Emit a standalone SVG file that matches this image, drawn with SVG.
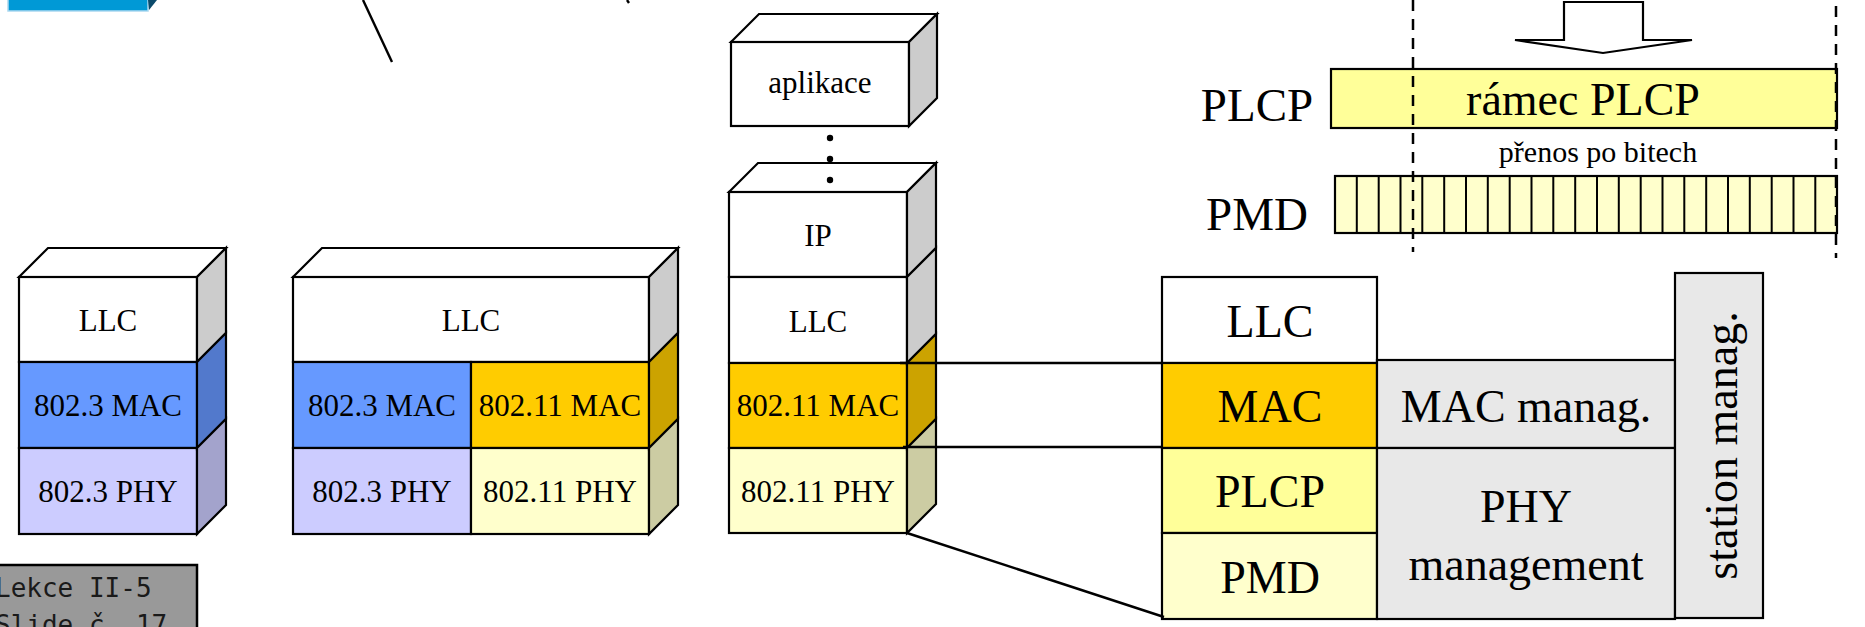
<svg xmlns="http://www.w3.org/2000/svg" width="1865" height="627" viewBox="0 0 1865 627">
<style>
.bx{stroke:#000;stroke-width:2.2;stroke-linejoin:miter}
.ln{stroke:#000;stroke-width:2.4;fill:none}
.s31{font-family:"Liberation Serif","Times New Roman",serif;font-size:31px;text-anchor:middle;fill:#000}
.s46{font-family:"Liberation Serif","Times New Roman",serif;font-size:46px;text-anchor:middle;fill:#000}
.s47{font-family:"Liberation Serif","Times New Roman",serif;font-size:47px;text-anchor:middle;fill:#000}
.s30{font-family:"Liberation Serif","Times New Roman",serif;font-size:30px;text-anchor:middle;fill:#000}
.mono{font-family:"DejaVu Sans Mono","Liberation Mono",monospace;font-size:26px;fill:#1a1a1a}
.w{fill:#fff}.sg{fill:#cccccc}
.b1{fill:#6699ff}.b1s{fill:#5279cc}
.b2{fill:#ccccff}.b2s{fill:#a3a3cc}
.y1{fill:#ffcc00}.y1s{fill:#cca300}
.y2{fill:#ffffcc}.y2s{fill:#cccca3}
.y3{fill:#ffff99}
.g{fill:#e8e8e8}
.dash{stroke:#000;stroke-width:2.5;stroke-dasharray:11 8;fill:none}
</style>

<g id="decor">
  <rect x="8" y="-4" width="140" height="15" fill="#0099d6" stroke="#aad8f0" stroke-width="1.5"/>
  <polygon points="148,0 157,0 149,10" fill="#0b4a6b"/>
  <line x1="363" y1="0" x2="392" y2="62" class="ln"/>
  <line x1="627" y1="0" x2="629" y2="3" class="ln"/>
</g>

<g id="stack-8023">
  <polygon class="bx w" points="19,277 48,248 226,248 197,277"/>
  <rect class="bx w" x="19" y="277" width="178" height="85"/>
  <rect class="bx b1" x="19" y="362" width="178" height="86"/>
  <rect class="bx b2" x="19" y="448" width="178" height="86"/>
  <polygon class="bx sg" points="197,277 226,248 226,333 197,362"/>
  <polygon class="bx b1s" points="197,362 226,333 226,419 197,448"/>
  <polygon class="bx b2s" points="197,448 226,419 226,505 197,534"/>
  <text class="s31" x="108" y="331">LLC</text>
  <text class="s31" x="108" y="416">802.3 MAC</text>
  <text class="s31" x="108" y="502">802.3 PHY</text>
</g>

<g id="stack-bridge">
  <polygon class="bx w" points="293,277 322,248 678,248 649,277"/>
  <rect class="bx w" x="293" y="277" width="356" height="85"/>
  <rect class="bx b1" x="293" y="362" width="178" height="86"/>
  <rect class="bx y1" x="471" y="362" width="178" height="86"/>
  <rect class="bx b2" x="293" y="448" width="178" height="86"/>
  <rect class="bx y2" x="471" y="448" width="178" height="86"/>
  <polygon class="bx sg" points="649,277 678,248 678,333 649,362"/>
  <polygon class="bx y1s" points="649,362 678,333 678,419 649,448"/>
  <polygon class="bx y2s" points="649,448 678,419 678,505 649,534"/>
  <text class="s31" x="471" y="331">LLC</text>
  <text class="s31" x="382" y="416">802.3 MAC</text>
  <text class="s31" x="560" y="416">802.11 MAC</text>
  <text class="s31" x="382" y="502">802.3 PHY</text>
  <text class="s31" x="560" y="502">802.11 PHY</text>
</g>

<g id="stack-80211">
  <g id="aplikace">
    <polygon class="bx w" points="731,42 759,14 937,14 909,42"/>
    <rect class="bx w" x="731" y="42" width="178" height="84"/>
    <polygon class="bx sg" points="909,42 937,14 937,98 909,126"/>
    <text class="s31" x="820" y="93">aplikace</text>
  </g>
  <polygon class="bx w" points="729,192 758,163 936,163 907,192"/>
  <rect class="bx w" x="729" y="192" width="178" height="85"/>
  <rect class="bx w" x="729" y="277" width="178" height="86"/>
  <rect class="bx y1" x="729" y="363" width="178" height="85"/>
  <rect class="bx y2" x="729" y="448" width="178" height="85"/>
  <polygon class="bx sg" points="907,192 936,163 936,248 907,277"/>
  <polygon class="bx sg" points="907,277 936,248 936,334 907,363"/>
  <polygon class="bx y1s" points="907,363 936,334 936,419 907,448"/>
  <polygon class="bx y2s" points="907,448 936,419 936,504 907,533"/>
  <text class="s31" x="818" y="246">IP</text>
  <text class="s31" x="818" y="332">LLC</text>
  <text class="s31" x="818" y="416">802.11 MAC</text>
  <text class="s31" x="818" y="502">802.11 PHY</text>
  <g id="dots">
    <circle cx="830" cy="138" r="3.2" fill="#000"/>
    <circle cx="830" cy="159" r="3.2" fill="#000"/>
    <circle cx="830" cy="180" r="3.2" fill="#000"/>
  </g>
</g>

<g id="frames">
  <g id="arrow">
    <polygon points="1564,2 1643,2 1643,40 1692,40 1603,53 1515,40 1564,40" fill="#fff" stroke="#000" stroke-width="2.2"/>
  </g>
  <text class="s47" x="1257" y="121">PLCP</text>
  <text class="s47" x="1257" y="230">PMD</text>
  <g id="plcp-frame">
    <rect class="bx y3" x="1331" y="69" width="506" height="59"/>
    <text class="s46" x="1583" y="115">rámec PLCP</text>
  </g>
  <text class="s30" x="1598" y="162">přenos po bitech</text>
  <g id="pmd-bits">
    <rect class="bx y2" x="1335" y="176" width="502" height="57"/>
    <path d="M1356.8 176V233M1378.7 176V233M1400.5 176V233M1422.3 176V233M1444.2 176V233M1466 176V233M1487.8 176V233M1509.7 176V233M1531.5 176V233M1553.3 176V233M1575.2 176V233M1597 176V233M1618.8 176V233M1640.7 176V233M1662.5 176V233M1684.3 176V233M1706.2 176V233M1728 176V233M1749.8 176V233M1771.7 176V233M1793.5 176V233M1815.3 176V233" stroke="#000" stroke-width="2" fill="none"/>
  </g>
  <line class="dash" x1="1413" y1="0" x2="1413" y2="252"/>
  <line class="dash" x1="1836" y1="6" x2="1836" y2="258"/>
</g>

<g id="right-stack">
  <g id="r-llc"><rect class="bx w" x="1162" y="277" width="215" height="86"/><text class="s46" x="1270" y="337">LLC</text></g>
  <g id="r-mac"><rect class="bx y1" x="1162" y="363" width="215" height="85"/><text class="s46" x="1270" y="422">MAC</text></g>
  <g id="r-plcp"><rect class="bx y3" x="1162" y="448" width="215" height="85"/><text class="s46" x="1270" y="507">PLCP</text></g>
  <g id="r-pmd"><rect class="bx y2" x="1162" y="533" width="215" height="86"/><text class="s46" x="1270" y="593">PMD</text></g>
  <g id="mac-manag"><rect class="bx g" x="1377" y="360" width="298" height="88"/><text class="s46" x="1526" y="422">MAC manag.</text></g>
  <g id="phy-manag"><rect class="bx g" x="1377" y="448" width="298" height="171"/><text class="s46" x="1526" y="522">PHY</text><text class="s46" x="1526" y="580">management</text></g>
  <g id="station-manag"><rect class="bx g" x="1675" y="273" width="88" height="345"/><text class="s46" transform="translate(1737,445.5) rotate(-90)" x="0" y="0">station manag.</text></g>
</g>

<g id="connectors">
  <line class="ln" x1="900" y1="363" x2="1162" y2="363"/>
  <line class="ln" x1="903" y1="447" x2="1162" y2="447"/>
  <line class="ln" x1="907" y1="533" x2="1164" y2="617"/>
</g>

<g id="lekce">
  <rect x="-10" y="565" width="207" height="80" fill="#999999" stroke="#000" stroke-width="2.5"/>
  <text class="mono" x="-5" y="597">Lekce II-5</text>
  <text class="mono" x="-5" y="634">Slide č. 17</text>
</g>
</svg>
